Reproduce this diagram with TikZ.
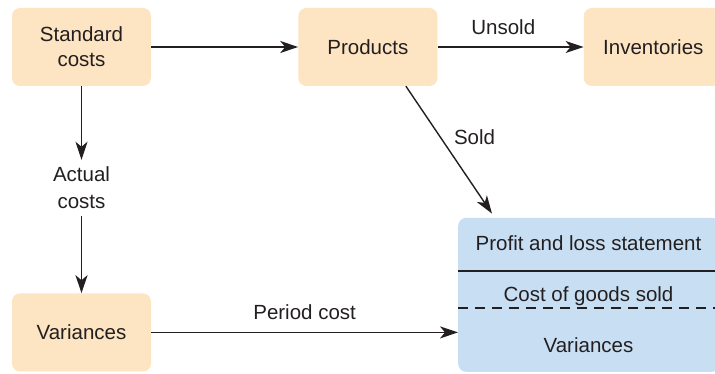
\documentclass[tikz,border=0pt]{standalone}
\usepackage{fontspec}
\setmainfont{Liberation Sans}
\usetikzlibrary{arrows.meta, positioning}
\definecolor{costorange}{HTML}{FDE4C2}
\definecolor{plblue}{HTML}{C8DFF3}
\definecolor{inkgray}{HTML}{231F20}

\begin{document}
\begin{tikzpicture}[
    x=1pt, y=-1pt,
    font=\fontsize{20.5}{25}\selectfont,
    block/.style={rectangle, rounded corners=8pt, fill=costorange, text=inkgray, minimum width=139pt, minimum height=78pt, align=center, inner sep=0pt},
    plbox/.style={rectangle, rounded corners=8pt, fill=plblue, minimum width=262pt, minimum height=154pt},
    pltext/.style={text=inkgray, text height=15pt, text depth=0pt},
    lbl/.style={text=inkgray, inner sep=2pt, align=center},
    arrow/.style={-{Stealth[length=18pt, width=12pt, inset=5pt]}, line width=1.4pt, draw=inkgray}
]
    \clip (0,0) rectangle (715,374);

    % Cost blocks
    \node[block] (std) at (81.5,47) {Standard\\costs};
    \node[block, right=147pt of std] (prod) {Products};
    \node[block, right=146pt of prod] (inv) {Inventories};
    \node[block, below=207pt of std] (var) {Variances};
    \node[lbl, inner sep=7pt] (actual) at (81.5,188) {Actual\\[2pt]costs};

    % Profit and loss statement
    \node[plbox, anchor=south west] (pl) at (458,372) {};
    \node[pltext] (pltitle) at (588.5,243) {Profit and loss statement};
    \node[pltext] (plcogs) at (588.5,294) {Cost of goods sold};
    \node[pltext] (plvar) at (588.5,345) {Variances};
    \coordinate (sep1) at (0,271);
    \coordinate (sep2) at (0,308);
    \draw[inkgray, line width=1.3pt] (pl.west |- sep1) -- (pl.east |- sep1);
    \draw[inkgray, line width=1.1pt, dash pattern=on 10pt off 7pt] (pl.west |- sep2) -- (pl.east |- sep2);

    % Connections
    \draw[arrow] (std) -- (prod);
    \draw[arrow] (prod) -- node[lbl, pos=0.45, above=10pt] {Unsold} (inv);
    \draw[arrow] (std) -- (actual);
    \draw[arrow] (actual) -- (var);
    \draw[arrow] ([xshift=38pt]prod.south) -- node[lbl, pos=0.4, right=11pt] {Sold} ([xshift=34pt, yshift=4pt]pl.north west);
    \draw[arrow] (var) -- node[lbl, above=10pt] {Period cost} (var -| pl.west);
\end{tikzpicture}
\end{document}
